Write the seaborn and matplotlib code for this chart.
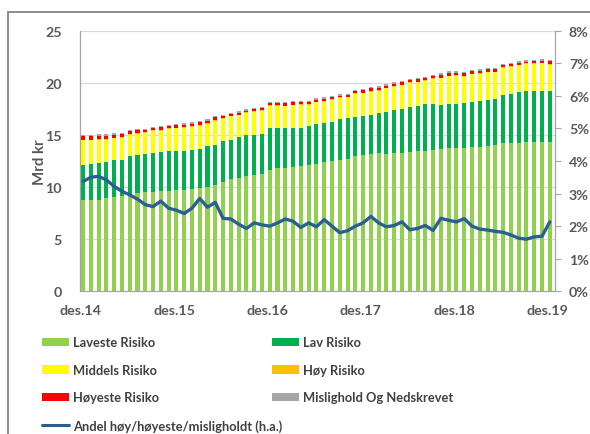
import numpy as np
import pandas as pd
import matplotlib
matplotlib.use("Agg")
import matplotlib.pyplot as plt
import seaborn as sns
from matplotlib.patches import Patch, Rectangle
from matplotlib.lines import Line2D
from matplotlib.ticker import FuncFormatter

# ---- data (Mrd kr), monthly des.14 .. des.19 ----
tick_labels = ["des.14", "des.15", "des.16", "des.17", "des.18", "des.19"]

laveste = [8.76, 8.76, 8.78, 8.95, 9.08, 9.15, 9.25, 9.46, 9.56, 9.56, 9.58, 9.66, 9.76,
           9.76, 9.82, 9.95, 10.05, 10.24, 10.46, 10.74, 10.85, 11.02, 11.13, 11.27, 11.65,
           11.80, 11.86, 11.88, 12.06, 12.15, 12.25, 12.40, 12.54, 12.63, 12.70, 12.98, 13.05,
           13.14, 13.22, 13.20, 13.22, 13.25, 13.34, 13.43, 13.50, 13.60, 13.66, 13.72, 13.74,
           13.78, 13.80, 13.82, 13.94, 14.04, 14.20, 14.22, 14.25, 14.30, 14.33, 14.36, 14.35]
lav = [3.39, 3.44, 3.52, 3.50, 3.47, 3.45, 3.75, 3.64, 3.59, 3.71, 3.77, 3.77, 3.69,
       3.74, 3.78, 3.70, 3.90, 3.81, 3.96, 3.81, 3.91, 3.93, 3.87, 3.83, 3.97,
       3.82, 3.76, 3.80, 3.64, 3.71, 3.82, 3.72, 3.74, 3.87, 3.90, 3.77, 3.79,
       3.74, 3.88, 4.00, 4.13, 4.25, 4.36, 4.32, 4.45, 4.40, 4.24, 4.23, 4.21,
       4.27, 4.40, 4.48, 4.41, 4.41, 4.65, 4.73, 4.85, 4.90, 4.92, 4.89, 4.85]
middels = [2.34, 2.27, 2.22, 2.09, 2.11, 2.13, 2.04, 2.01, 2.03, 2.12, 2.06, 2.16, 2.20,
           2.21, 2.19, 2.23, 2.12, 2.29, 2.15, 2.22, 2.13, 2.16, 2.23, 2.24, 2.17,
           2.15, 2.13, 2.18, 2.19, 2.06, 2.06, 2.07, 2.09, 2.06, 2.00, 2.21, 2.15,
           2.27, 2.14, 2.26, 2.29, 2.27, 2.31, 2.31, 2.23, 2.36, 2.53, 2.69, 2.70,
           2.53, 2.62, 2.59, 2.65, 2.56, 2.56, 2.57, 2.59, 2.60, 2.58, 2.62, 2.53]
hoy = [0.06] * 61
hoyeste = [0.33, 0.35, 0.35, 0.33, 0.31, 0.29, 0.28, 0.26, 0.24, 0.23, 0.26, 0.23, 0.22,
           0.21, 0.23, 0.29, 0.25, 0.28, 0.20, 0.20, 0.18, 0.16, 0.19, 0.18, 0.18,
           0.20, 0.22, 0.21, 0.18, 0.20, 0.19, 0.23, 0.20, 0.16, 0.17, 0.21, 0.23,
           0.27, 0.23, 0.21, 0.23, 0.25, 0.21, 0.21, 0.24, 0.21, 0.29, 0.28, 0.27,
           0.29, 0.25, 0.23, 0.22, 0.21, 0.21, 0.20, 0.18, 0.17, 0.19, 0.20, 0.29]
mislighold = [0.12] * 61
# share of høy/høyeste/misligholdt (right axis, %)
andel = [3.37, 3.50, 3.53, 3.42, 3.22, 3.07, 2.96, 2.83, 2.66, 2.60, 2.77, 2.55, 2.49,
         2.39, 2.55, 2.85, 2.58, 2.73, 2.24, 2.22, 2.06, 1.93, 2.10, 2.04, 2.00,
         2.10, 2.22, 2.15, 1.96, 2.10, 1.98, 2.20, 2.00, 1.80, 1.86, 2.00, 2.10,
         2.30, 2.10, 1.98, 2.02, 2.13, 1.89, 1.93, 2.02, 1.87, 2.24, 2.18, 2.13,
         2.23, 2.00, 1.91, 1.88, 1.84, 1.81, 1.73, 1.63, 1.60, 1.67, 1.69, 2.13]

series = [("Laveste Risiko", laveste, "#92D050"),
          ("Lav Risiko", lav, "#00B050"),
          ("Middels Risiko", middels, "#FFFF00"),
          ("Høy Risiko", hoy, "#FFC000"),
          ("Høyeste Risiko", hoyeste, "#FF0000"),
          ("Mislighold Og Nedskrevet", mislighold, "#A6A6A6")]
line_label = "Andel høy/høyeste/misligholdt (h.a.)"
line_color = "#2A5F91"

n = len(laveste)
idx = np.arange(n)
df = pd.DataFrame({name: vals for name, vals, _ in series})
df["idx"] = idx
cum = df[[s[0] for s in series]].cumsum(axis=1)

sns.set_style("white")
plt.rcParams["font.family"] = ["Lato", "DejaVu Sans"]
txt_color = "#595959"
tick_size = 10.3

fig = plt.figure(figsize=(5.9, 4.35), dpi=100)
ax = fig.add_axes([80 / 590, 1 - 292.3 / 435, 475 / 590, 260.6 / 435])

for name, _, color in reversed(series):
    sns.barplot(x=df["idx"], y=cum[name], color=color, saturation=1, width=0.52,
                ax=ax, native_scale=True, linewidth=0, zorder=2)

ax.set_xlim(-0.39, n - 1 + 0.67)
ax.set_ylim(0, 25)
ax.set_yticks([0, 5, 10, 15, 20, 25])
ax.yaxis.grid(True, color="#d9d9d9", lw=0.9)
ax.set_axisbelow(True)
ax.set_xticks([i * 12 - 0.28 for i in range(len(tick_labels))])
ax.set_xticklabels(tick_labels)
ax.set_xlabel("")
ax.set_ylabel("Mrd kr", fontsize=tick_size + 0.5, fontweight="bold", color=txt_color)
ax.yaxis.set_label_coords(-0.07, 0.5)
for lab in ax.get_xticklabels() + ax.get_yticklabels():
    lab.set_fontweight("bold")
    lab.set_color(txt_color)
    lab.set_fontsize(tick_size)
ax.tick_params(axis="y", length=0, pad=13)
ax.tick_params(axis="x", length=4, width=0.8, color="#a6a6a6", direction="out", pad=5)
for s in ["top", "right"]:
    ax.spines[s].set_visible(False)
for s in ["left", "bottom"]:
    ax.spines[s].set_color("#a6a6a6")
    ax.spines[s].set_linewidth(0.9)

ax2 = ax.twinx()
sns.lineplot(x=idx, y=np.array(andel) / 100.0, ax=ax2, color=line_color, lw=2.4, zorder=5)
ax2.set_ylim(0, 0.08)
ax2.set_yticks(np.arange(0, 0.081, 0.01))
ax2.yaxis.set_major_formatter(FuncFormatter(lambda v, p: f"{v * 100:.0f}%"))
for lab in ax2.get_yticklabels():
    lab.set_fontweight("bold")
    lab.set_color(txt_color)
    lab.set_fontsize(tick_size)
ax2.tick_params(axis="y", length=4, width=0.8, color="#a6a6a6", direction="out", pad=6)
for s in ["top", "left", "bottom"]:
    ax2.spines[s].set_visible(False)
ax2.spines["right"].set_color("#a6a6a6")
ax2.spines["right"].set_linewidth(0.9)
ax2.set_ylabel("")

# legend: two separately placed columns
h = {name: Patch(facecolor=color, edgecolor="none") for name, _, color in series}
hl = Line2D([0], [0], color=line_color, lw=2.2)
col1 = ["Laveste Risiko", "Middels Risiko", "Høyeste Risiko"]
col2 = ["Lav Risiko", "Høy Risiko", "Mislighold Og Nedskrevet"]
leg_kw = dict(loc="upper left", frameon=False, borderaxespad=0, borderpad=0,
              handlelength=2.1, handleheight=0.62, handletextpad=0.3,
              labelspacing=1.2, prop={"size": 9.3, "weight": "bold"})
leg1 = fig.legend([h[c] for c in col1] + [hl], col1 + [line_label],
                  bbox_to_anchor=(42 / 590, 1 - 337.5 / 435), **leg_kw)
leg2 = fig.legend([h[c] for c in col2], col2,
                  bbox_to_anchor=(272 / 590, 1 - 337.5 / 435), **leg_kw)
for lg in (leg1, leg2):
    for t in lg.get_texts():
        t.set_color("#404040")

# outer chart frame
fig.patches.append(Rectangle((7.5 / 590, -0.1), 1.2, 1.1 - 13.3 / 435, transform=fig.transFigure,
                             fill=False, ec="#8c8c8c", lw=1.4))

fig.savefig("out.png", dpi=100)
